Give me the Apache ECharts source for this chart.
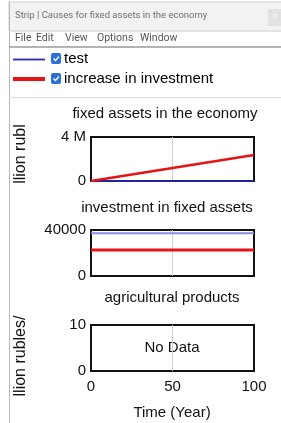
<!DOCTYPE html>
<html>
<head>
<meta charset="utf-8">
<script src="https://cdn.jsdelivr.net/npm/echarts@6/dist/echarts.min.js"></script>
<style>
html,body{margin:0;padding:0;background:#fff;}
#chart{width:281px;height:423px;}
</style>
</head>
<body>
<div id="chart"></div>
<script>
// ---- data ----
const years = [0, 100];
const seriesNames = ['test', 'increase in investment'];
const fixedAssetsTest = [0, 0];
const fixedAssetsIncrease = [0, 2360000];
const investmentTest = [37200, 37200];
const investmentIncrease = [22600, 22600];
const agriculturalTest = [];
const agriculturalIncrease = [];
const panelTitles = ['fixed assets in the economy', 'investment in fixed assets', 'agricultural products'];
const xTicks = [0, 50, 100];
const yMax = [4000000, 40000, 10];
const yTickLabels = [['0', '4 M'], ['0', '40000'], ['0', '10']];
const yNames = ['llion rubl', 'llion rubles/'];
const xName = 'Time (Year)';
const windowTitle = 'Strip | Causes for fixed assets in the economy';
const menuItems = ['File', 'Edit', 'View', 'Options', 'Window'];

const FONT = '"Liberation Sans", Arial, sans-serif';
const UI = 'Roboto, "Noto Sans", sans-serif';
const BLUE = '#22229a';
const RED = '#e41414';

function pair(xs, ys) { return xs.map((x, i) => [x, ys[i]]); }

const grids = [
  { left: 91, top: 137, width: 163, height: 44 },
  { left: 91, top: 230, width: 163, height: 46 },
  { left: 91, top: 325, width: 163, height: 46 }
];

const chart = echarts.init(document.getElementById('chart'), null, { renderer: 'canvas' });

const xAxes = grids.map((g, i) => ({
  gridIndex: i, type: 'value', min: 0, max: 100, interval: 50,
  axisLine: { show: false }, axisTick: { show: false },
  axisLabel: { show: i === 2, margin: 8, color: '#111', fontSize: 15, fontFamily: FONT,
    customValues: xTicks },
  splitLine: { show: true, showMinLine: false, showMaxLine: false, lineStyle: { color: '#cfcfcf', width: 1 } }
}));

const yAxes = grids.map((g, i) => ({
  gridIndex: i, type: 'value', min: 0, max: yMax[i], interval: yMax[i],
  axisLine: { show: false }, axisTick: { show: false },
  splitLine: { show: false },
  axisLabel: { margin: 5, color: '#111', fontSize: 15, fontFamily: FONT,
    formatter: (v) => v === 0 ? yTickLabels[i][0] : yTickLabels[i][1] }
}));

const series = [
  { name: seriesNames[0], type: 'line', xAxisIndex: 0, yAxisIndex: 0, data: pair(years, fixedAssetsTest),
    symbol: 'none', lineStyle: { color: BLUE, width: 2 }, z: 3 },
  { name: seriesNames[1], type: 'line', xAxisIndex: 0, yAxisIndex: 0, data: pair(years, fixedAssetsIncrease),
    symbol: 'none', lineStyle: { color: RED, width: 2.5 }, z: 4 },
  { name: seriesNames[0], type: 'line', xAxisIndex: 1, yAxisIndex: 1, data: pair(years, investmentTest),
    symbol: 'none', lineStyle: { color: '#8a8ae0', width: 2 }, z: 3 },
  { name: seriesNames[1], type: 'line', xAxisIndex: 1, yAxisIndex: 1, data: pair(years, investmentIncrease),
    symbol: 'none', lineStyle: { color: RED, width: 3 }, z: 4 },
  { name: seriesNames[0], type: 'line', xAxisIndex: 2, yAxisIndex: 2, data: agriculturalTest, symbol: 'none' },
  { name: seriesNames[1], type: 'line', xAxisIndex: 2, yAxisIndex: 2, data: agriculturalIncrease, symbol: 'none' }
];

function txt(x, y, text, size, color, align, family, extra) {
  return Object.assign({ type: 'text', x: x, y: y, silent: true,
    style: { text: text, fontSize: size, fill: color, fontFamily: family || FONT,
      textAlign: align || 'left', textVerticalAlign: 'middle' } }, extra || {});
}

function checkbox(x, y) {
  return [
    { type: 'rect', shape: { x: x, y: y, width: 10, height: 11, r: 2 }, style: { fill: '#2e6fd6' }, silent: true },
    { type: 'polyline', shape: { points: [[x + 2.5, y + 5.5], [x + 4.5, y + 7.5], [x + 8, y + 3.5]] },
      style: { stroke: '#fff', lineWidth: 1.3, fill: null }, silent: true }
  ];
}

const menuX = [15, 36, 65, 97, 140];

const graphics = [
  // window chrome
  { type: 'rect', shape: { x: 9, y: 2, width: 280, height: 29 }, style: { fill: '#f2f2f2', stroke: '#cfcfcf', lineWidth: 1 }, silent: true },
  { type: 'rect', shape: { x: 268, y: 9, width: 16, height: 17 }, style: { fill: '#e2e2e2' }, silent: true },
  txt(275, 17, '×', 9, '#f8f8f8', 'center', UI),
  txt(15, 16, windowTitle, 9.5, '#707070', 'left', UI),
  { type: 'line', shape: { x1: 9.5, y1: 2, x2: 9.5, y2: 423 }, style: { stroke: '#b8b8b8', lineWidth: 1 }, silent: true },
  { type: 'line', shape: { x1: 9, y1: 47, x2: 281, y2: 47 }, style: { stroke: '#9a9a9a', lineWidth: 1.5 }, silent: true },
  { type: 'line', shape: { x1: 9, y1: 97.5, x2: 281, y2: 97.5 }, style: { stroke: '#dcdcdc', lineWidth: 1 }, silent: true },
  // legend
  { type: 'line', shape: { x1: 13, y1: 59.5, x2: 45, y2: 59.5 }, style: { stroke: '#2a2ab8', lineWidth: 1.8 }, silent: true },
  { type: 'line', shape: { x1: 13, y1: 79, x2: 45, y2: 79 }, style: { stroke: RED, lineWidth: 4 }, silent: true },
  ...checkbox(51, 53),
  ...checkbox(51, 73),
  txt(64, 59, seriesNames[0], 15, '#000'),
  txt(64, 79, seriesNames[1], 15, '#000'),
  // panel titles
  txt(165, 114, panelTitles[0], 15, '#111', 'center'),
  txt(167, 208, panelTitles[1], 15, '#111', 'center'),
  txt(172, 298, panelTitles[2], 15, '#111', 'center'),
  // no data
  txt(172, 348, 'No Data', 15, '#111', 'center'),
  // x name
  txt(172, 413, xName, 15, '#111', 'center'),
  // y names (read bottom to top)
  txt(21, 154, yNames[0], 16, '#111', 'center', FONT, { rotation: Math.PI / 2, originX: 0, originY: 0 }),
  txt(21, 356, yNames[1], 16, '#111', 'center', FONT, { rotation: Math.PI / 2, originX: 0, originY: 0 })
];
menuItems.forEach((m, i) => graphics.push(txt(menuX[i], 38, m, 10.5, '#555', 'left', UI)));

chart.setOption({
  animation: false,
  backgroundColor: '#fff',
  grid: grids.map(g => Object.assign({ show: true, borderColor: '#111', borderWidth: 2, backgroundColor: 'transparent', containLabel: false }, g)),
  xAxis: xAxes,
  yAxis: yAxes,
  series: series,
  graphic: { elements: graphics }
});
</script>
</body>
</html>
